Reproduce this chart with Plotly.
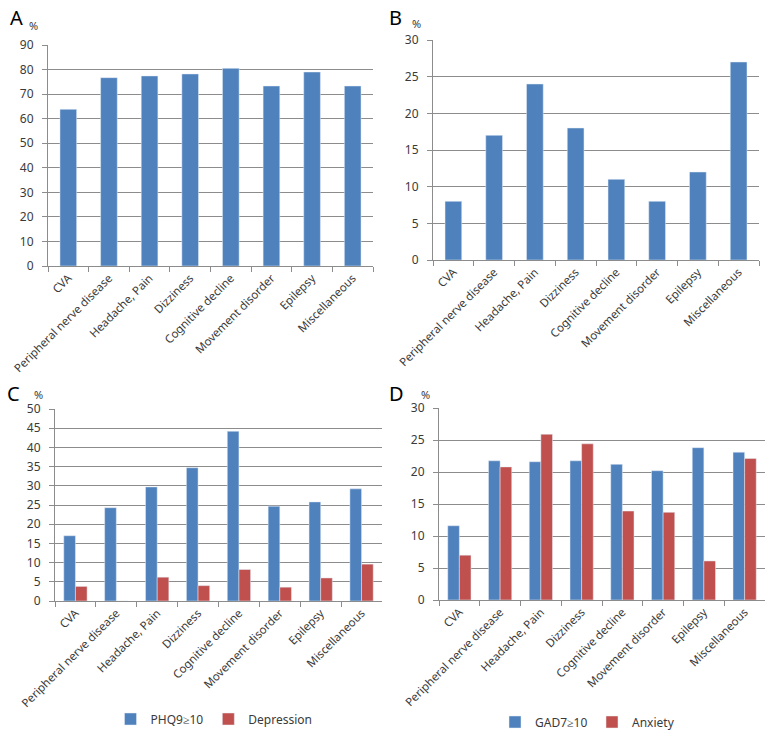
import plotly.graph_objects as go

categories = ["CVA", "Peripheral nerve disease", "Headache, Pain", "Dizziness",
              "Cognitive decline", "Movement disorder", "Epilepsy", "Miscellaneous"]

a_values = [63.8, 76.7, 77.4, 78.2, 80.5, 73.3, 79.0, 73.3]
b_values = [8, 17, 24, 18, 11, 8, 12, 27]
c_phq9 = [17.0, 24.3, 29.7, 34.7, 44.2, 24.7, 25.8, 29.2]
c_depression = [3.8, 0, 6.2, 4.0, 8.2, 3.6, 6.0, 9.6]
d_gad7 = [11.6, 21.75, 21.6, 21.75, 21.2, 20.2, 23.8, 23.1]
d_anxiety = [7.0, 20.8, 25.9, 24.4, 13.9, 13.7, 6.1, 22.1]

BLUE = "#4F81BD"
RED = "#C0504D"
GRID = "#8c8c8c"
TXT = "#3a3a3a"
FONT = "Noto Sans"

W, H = 772, 733

def xd(x0, x1):
    return [x0 / W, x1 / W]

def yd(top, bottom):
    return [1 - bottom / H, 1 - top / H]

fig = go.Figure()

# Panel A
fig.add_trace(go.Bar(x=categories, y=a_values, marker_color=BLUE, width=0.41,
                     xaxis="x", yaxis="y", showlegend=False))
# Panel B
fig.add_trace(go.Bar(x=categories, y=b_values, marker_color=BLUE, width=0.41,
                     xaxis="x2", yaxis="y2", showlegend=False))
# Panel C
fig.add_trace(go.Bar(x=categories, y=c_phq9, marker_color=BLUE, width=0.285, offset=-0.285,
                     xaxis="x3", yaxis="y3", name="PHQ9≥10", legend="legend"))
fig.add_trace(go.Bar(x=categories, y=c_depression, marker_color=RED, width=0.285, offset=0,
                     xaxis="x3", yaxis="y3", name="Depression", legend="legend"))
# Panel D
fig.add_trace(go.Bar(x=categories, y=d_gad7, marker_color=BLUE, width=0.285, offset=-0.285,
                     xaxis="x4", yaxis="y4", name="GAD7≥10", legend="legend2"))
fig.add_trace(go.Bar(x=categories, y=d_anxiety, marker_color=RED, width=0.285, offset=0,
                     xaxis="x4", yaxis="y4", name="Anxiety", legend="legend2"))

xcommon = dict(type="category", showline=True, linecolor=GRID, linewidth=1,
               ticks="outside", tickson="boundaries", ticklen=5, tickcolor=GRID,
               tickangle=-45, tickfont=dict(family=FONT, size=11.5, color=TXT),
               showgrid=False, fixedrange=True, automargin=False)
ycommon = dict(showline=True, linecolor=GRID, linewidth=1, ticks="outside",
               ticklen=5, tickcolor=GRID, showgrid=True, gridcolor=GRID, gridwidth=1,
               zeroline=False, tickfont=dict(family=FONT, size=12, color=TXT),
               ticklabelstandoff=6, fixedrange=True, automargin=False)

fig.update_layout(
    width=W, height=H,
    margin=dict(l=0, r=0, t=0, b=0, autoexpand=False),
    paper_bgcolor="white", plot_bgcolor="white",
    barmode="overlay",
    font=dict(family=FONT, size=11, color=TXT),
    xaxis=dict(domain=xd(48, 373), anchor="y", **xcommon),
    yaxis=dict(domain=yd(45, 266), anchor="x", range=[0, 90], dtick=10, **ycommon),
    xaxis2=dict(domain=xd(433, 759), anchor="y2", **xcommon),
    yaxis2=dict(domain=yd(40, 260), anchor="x2", range=[0, 30], dtick=5, **ycommon),
    xaxis3=dict(domain=xd(55, 382), anchor="y3", **xcommon),
    yaxis3=dict(domain=yd(409, 601), anchor="x3", range=[0, 50], dtick=5, **ycommon),
    xaxis4=dict(domain=xd(439, 765), anchor="y4", **xcommon),
    yaxis4=dict(domain=yd(408, 600), anchor="x4", range=[0, 30], dtick=5, **ycommon),
    legend=dict(orientation="h", x=214 / W, y=1 - 719 / H, xanchor="center", yanchor="middle",
                font=dict(family=FONT, size=12, color=TXT), itemwidth=30, tracegroupgap=0,
                bgcolor="rgba(0,0,0,0)"),
    legend2=dict(orientation="h", x=592 / W, y=1 - 722 / H, xanchor="center", yanchor="middle",
                 font=dict(family=FONT, size=12, color=TXT), itemwidth=30, tracegroupgap=0,
                 entrywidth=52, bgcolor="rgba(0,0,0,0)"),
)

labels = [("A", 16, 18, 20), ("B", 395, 18, 20), ("C", 14, 393, 20), ("D", 396, 393, 20)]
units = [(33, 26), (416, 24), (38, 394), (426, 394)]
for (t, x, y, s), (ux, uy) in zip(labels, units):
    fig.add_annotation(text=t, x=x / W, y=1 - y / H, xref="paper", yref="paper",
                       showarrow=False, xanchor="center", yanchor="middle",
                       font=dict(family=FONT, size=s, color="black"))
    fig.add_annotation(text="%", x=ux / W, y=1 - uy / H, xref="paper", yref="paper",
                       showarrow=False, xanchor="center", yanchor="middle",
                       font=dict(family=FONT, size=11, color=TXT))

fig.write_html("out.html", config={"displayModeBar": False},
               post_script="document.body.style.margin='0';")
